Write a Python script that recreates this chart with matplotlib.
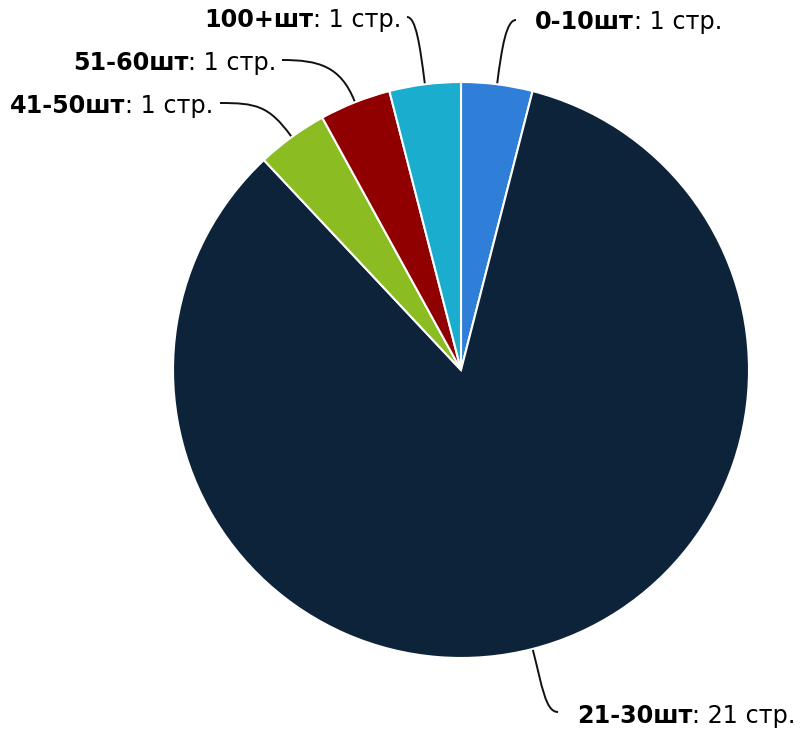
import matplotlib.pyplot as plt
from matplotlib.path import Path
from matplotlib.patches import PathPatch
import numpy as np

categories = ["0-10", "21-30", "41-50", "51-60", "100+"]
counts = [1, 21, 1, 1, 1]
colors = ["#2f7ed8", "#0d233a", "#8bbc21", "#910000", "#1aadce"]

# label placement (pixels, y from top): text left x, text centre y, connector end
label_pos = {
    "0-10": (535, 22, 516, 20),
    "21-30": (577, 716, 558, 712),
    "41-50": (10, 106, 220, 103),
    "51-60": (73, 63, 282, 60),
    "100+": (204, 20, 407, 17),
}

W, H = 801, 731
cx, cy, R = 461, H - 370, 288

fig = plt.figure(figsize=(W / 100, H / 100), dpi=100)
ax = fig.add_axes([0, 0, 1, 1])
ax.pie(counts, colors=colors, startangle=90, counterclock=False,
       center=(cx, cy), radius=R,
       wedgeprops=dict(edgecolor="white", linewidth=1.5))
ax.set_xlim(0, W)
ax.set_ylim(0, H)
ax.set_aspect("equal")
ax.axis("off")

total = sum(counts)
start = 90.0
for cat, n in zip(categories, counts):
    span = 360.0 * n / total
    mid = np.radians(start - span / 2)
    start -= span
    d = np.array([np.cos(mid), np.sin(mid)])
    p0 = np.array([cx, cy]) + (R + 1) * d
    c1 = p0 + 38 * d
    tx, ty, ex, ey = label_pos[cat]
    end = np.array([ex, H - ey])
    c2 = end + np.array([(p0[0] - end[0]) * 0.5, 0])
    path = Path([p0, c1, c2, end], [Path.MOVETO, Path.CURVE4, Path.CURVE4, Path.CURVE4])
    ax.add_patch(PathPatch(path, fill=False, edgecolor="#111111", lw=1.4))

    t1 = ax.text(tx, H - ty, f"{cat}шт", fontsize=17.2, fontweight="bold",
                 ha="left", va="center", color="black")
    ax.annotate(f": {n} стр.", xy=(1, 0), xycoords=t1, va="bottom", ha="left",
                fontsize=17.2, color="black")

fig.savefig("out.png", dpi=100)
